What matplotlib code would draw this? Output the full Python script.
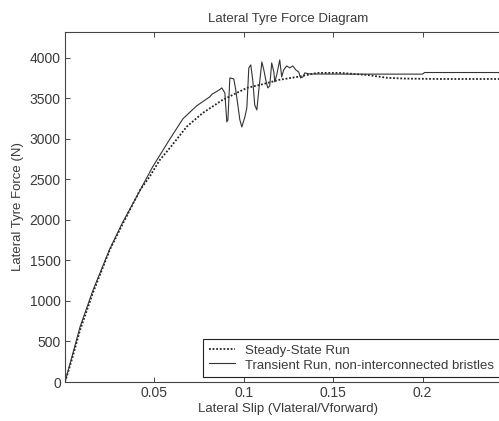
import matplotlib
matplotlib.use("Agg")
import matplotlib.pyplot as plt

plt.rcParams['font.family'] = ['Liberation Sans', 'DejaVu Sans']

title = "Lateral Tyre Force Diagram"
xlabel = "Lateral Slip (Vlateral/Vforward)"
ylabel = "Lateral Tyre Force (N)"
legend_labels = ["Steady-State Run", "Transient Run, non-interconnected bristles"]

x_ticks = [0.05, 0.1, 0.15, 0.2]
x_tick_labels = ["0.05", "0.1", "0.15", "0.2"]
y_ticks = [0, 500, 1000, 1500, 2000, 2500, 3000, 3500, 4000]
y_tick_labels = ["0", "500", "1000", "1500", "2000", "2500", "3000", "3500", "4000"]

steady_slip = [0, 0.004, 0.0084, 0.0156, 0.025, 0.032, 0.042, 0.0475, 0.053, 0.0587,
               0.068, 0.077, 0.088, 0.1017, 0.1095, 0.12, 0.131, 0.141, 0.154, 0.169,
               0.18, 0.19, 0.21, 0.25]
steady_force = [0, 290, 640, 1100, 1630, 1940, 2370, 2540, 2740, 2890,
                3150, 3320, 3480, 3630, 3670, 3730, 3770, 3815, 3815, 3790,
                3755, 3745, 3740, 3740]

trans_slip = [0, 0.004, 0.0084, 0.0156, 0.025, 0.032, 0.040, 0.049, 0.0587, 0.066,
              0.0737, 0.081, 0.0821, 0.0866, 0.0877, 0.0894, 0.0905, 0.0911, 0.0922,
              0.0944, 0.0955, 0.0978, 0.0989, 0.1006, 0.1017, 0.1028, 0.1039, 0.1050,
              0.1061, 0.1073, 0.1084, 0.1101, 0.1112, 0.1123, 0.1134, 0.1145, 0.1156,
              0.1168, 0.1173, 0.1184, 0.1201, 0.1212, 0.1223, 0.1240, 0.1257, 0.1274,
              0.1291, 0.1307, 0.1318, 0.1330, 0.1341, 0.1369, 0.16, 0.19, 0.200,
              0.2011, 0.25]
trans_force = [0, 320, 680, 1130, 1640, 1960, 2285, 2655, 3000, 3250,
               3410, 3520, 3550, 3610, 3630, 3568, 3210, 3235, 3753,
               3741, 3605, 3235, 3148, 3272, 3383, 3877, 3914, 3728,
               3420, 3358, 3605, 3951, 3852, 3728, 3630, 3654, 3938,
               3827, 3704, 3790, 3975, 3765, 3852, 3901, 3877, 3901,
               3852, 3827, 3753, 3765, 3815, 3802, 3800, 3800, 3800,
               3820, 3820]

fig = plt.figure(figsize=(4.99, 4.21), dpi=100)
ax = fig.add_axes([65/499, 39/421, 447/499, 350/421])

text_c = '#3a3a3a'
ax.plot(steady_slip, steady_force, color='#222222', lw=1.3, linestyle=(0, (1, 1)),
        label=legend_labels[0])
ax.plot(trans_slip, trans_force, color='#333333', lw=0.8, label=legend_labels[1])

ax.set_xlim(0, 0.25)
ax.set_ylim(0, 4320)
ax.set_xticks(x_ticks)
ax.set_xticklabels(x_tick_labels)
ax.set_yticks(y_ticks)
ax.set_yticklabels(y_tick_labels)
ax.tick_params(direction='in', length=3.5, width=0.7, top=True, right=True,
               labelsize=10, labelcolor=text_c, color='#444444', pad=3)
for s in ax.spines.values():
    s.set_color('#444444')
    s.set_linewidth(0.8)

ax.set_title(title, fontsize=9.5, color=text_c, pad=7)
ax.set_xlabel(xlabel, fontsize=9.5, color=text_c, labelpad=2)
ax.set_ylabel(ylabel, fontsize=9.5, color=text_c, labelpad=4)

leg = ax.legend(loc='lower left', bbox_to_anchor=(138/447, 5/350), fontsize=9.5,
                frameon=True, fancybox=False, framealpha=1, edgecolor='#222222',
                borderpad=0.45, labelspacing=0.15, handlelength=2.0, handletextpad=0.7,
                borderaxespad=0)
leg.get_frame().set_linewidth(0.8)
for t in leg.get_texts():
    t.set_color(text_c)

fig.savefig("out.png", dpi=100)
